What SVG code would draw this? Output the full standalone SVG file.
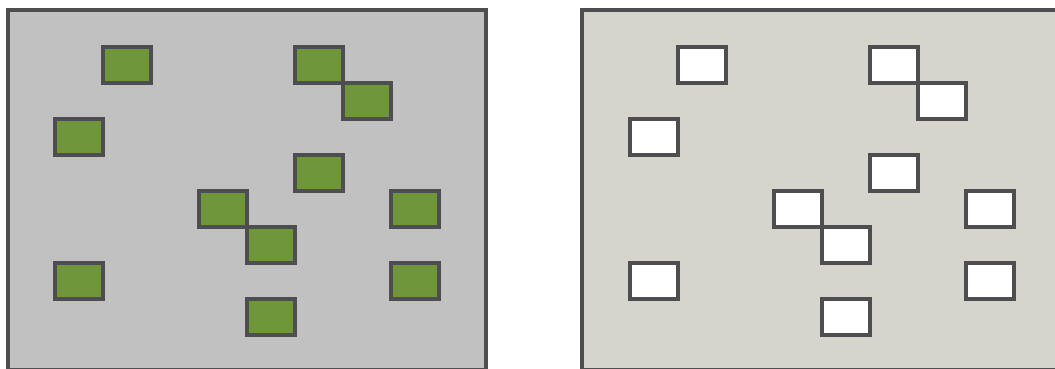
<svg xmlns="http://www.w3.org/2000/svg" width="1055" height="369" viewBox="0 0 1055 369">
<style>
.panel{stroke:#4e4e50;stroke-width:4}
.l{fill:#c1c1c1}
.r{fill:#d5d5cd}
.b{stroke:#4e4e50;stroke-width:4}
.g{fill:#70963c}
.w{fill:#ffffff}
</style>
<defs>
<rect id="box" width="48" height="36"/>
</defs>
<g id="left-panel">
<rect class="panel l" x="8" y="10" width="478" height="360"/>
<g class="b g">
<use href="#box" x="103" y="47"/>
<use href="#box" x="295" y="47"/>
<use href="#box" x="343" y="83"/>
<use href="#box" x="55" y="119"/>
<use href="#box" x="295" y="155"/>
<use href="#box" x="199" y="191"/>
<use href="#box" x="391" y="191"/>
<use href="#box" x="247" y="227"/>
<use href="#box" x="55" y="263"/>
<use href="#box" x="391" y="263"/>
<use href="#box" x="247" y="299"/>
</g>
</g>
<g id="right-panel">
<rect class="panel r" x="582" y="10" width="480" height="360"/>
<g class="b w" transform="translate(575,0)">
<use href="#box" x="103" y="47"/>
<use href="#box" x="295" y="47"/>
<use href="#box" x="343" y="83"/>
<use href="#box" x="55" y="119"/>
<use href="#box" x="295" y="155"/>
<use href="#box" x="199" y="191"/>
<use href="#box" x="391" y="191"/>
<use href="#box" x="247" y="227"/>
<use href="#box" x="55" y="263"/>
<use href="#box" x="391" y="263"/>
<use href="#box" x="247" y="299"/>
</g>
</g>
</svg>
